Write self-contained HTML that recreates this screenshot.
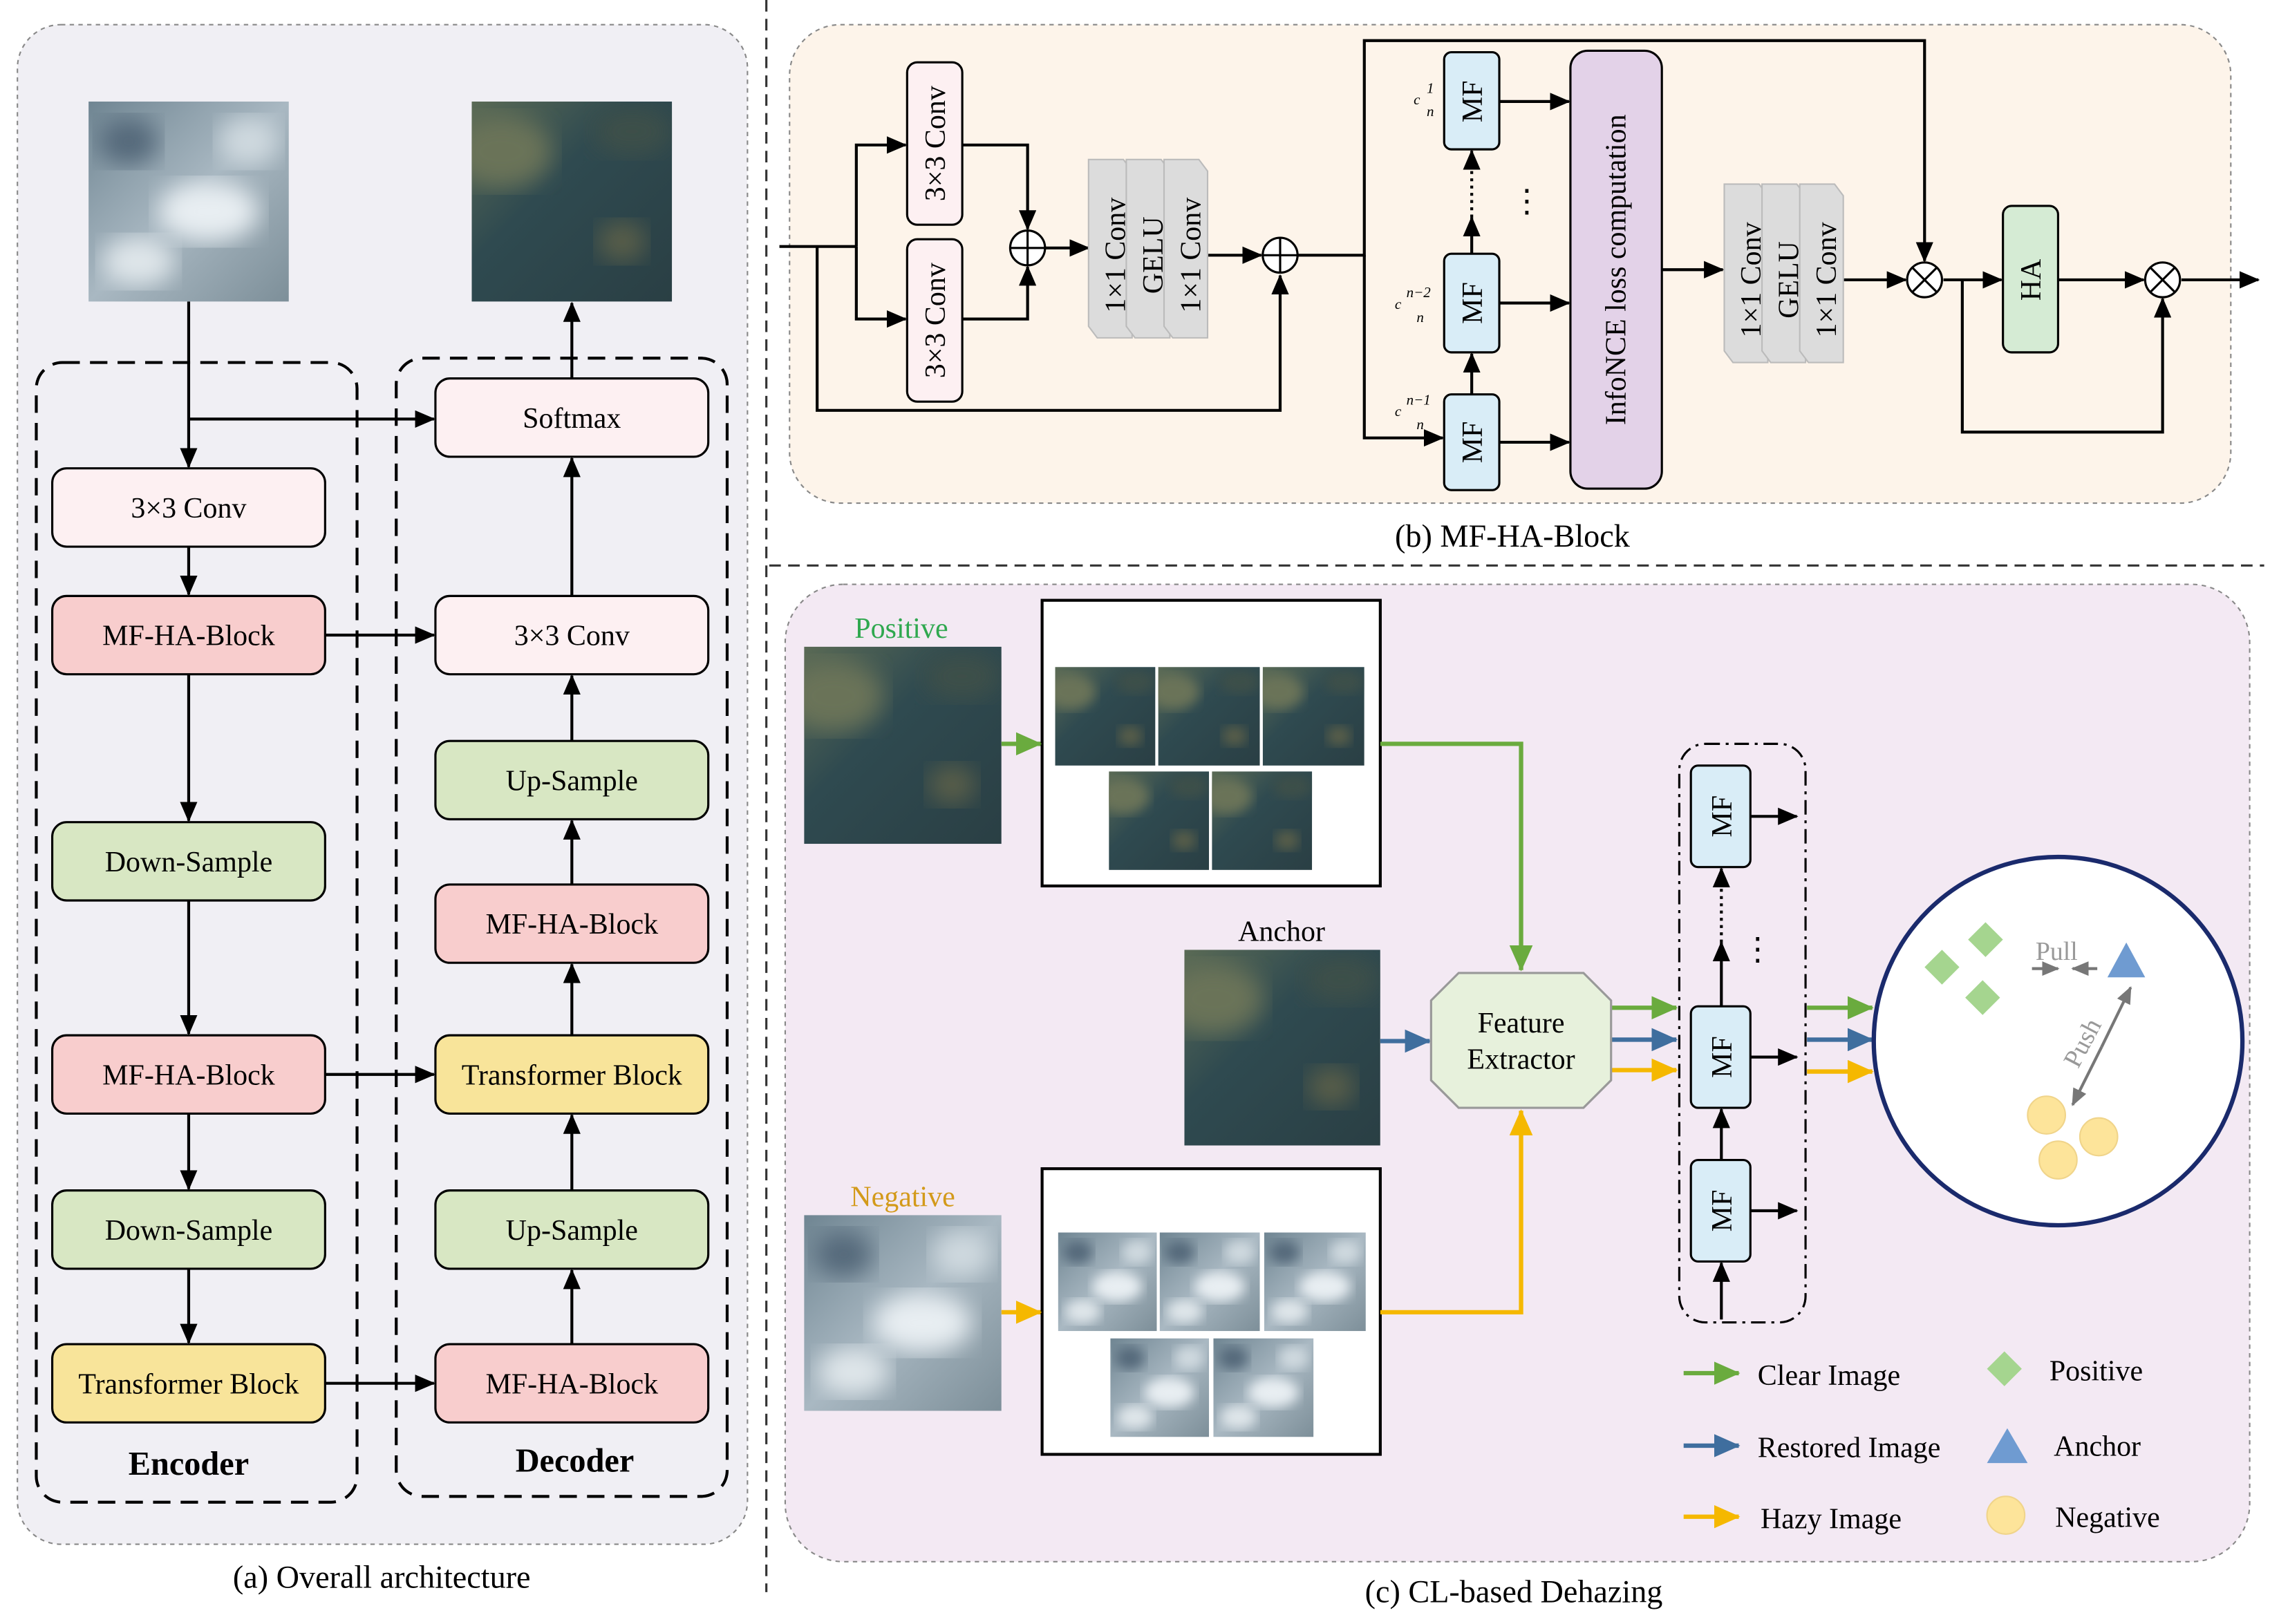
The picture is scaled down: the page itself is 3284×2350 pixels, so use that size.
<!DOCTYPE html>
<html><head><meta charset="utf-8"><style>html,body{margin:0;padding:0;background:#fff}svg{display:block}</style></head><body>
<svg width="3284" height="2350" viewBox="0 0 1564 1120" preserveAspectRatio="none" xmlns="http://www.w3.org/2000/svg" font-family="Liberation Serif, serif">
<defs>
<marker id="ah" markerUnits="userSpaceOnUse" markerWidth="14" markerHeight="12" refX="13" refY="6" orient="auto"><path d="M0,0 L14,6 L0,12 z" fill="#000"/></marker>
<marker id="ag" markerUnits="userSpaceOnUse" markerWidth="18" markerHeight="16" refX="17" refY="8" orient="auto"><path d="M0,0 L18,8 L0,16 z" fill="#6aab3e"/></marker>
<marker id="ab" markerUnits="userSpaceOnUse" markerWidth="18" markerHeight="16" refX="17" refY="8" orient="auto"><path d="M0,0 L18,8 L0,16 z" fill="#3f6e9e"/></marker>
<marker id="ao" markerUnits="userSpaceOnUse" markerWidth="18" markerHeight="16" refX="17" refY="8" orient="auto"><path d="M0,0 L18,8 L0,16 z" fill="#f5b800"/></marker>
<marker id="agr" markerUnits="userSpaceOnUse" markerWidth="12" markerHeight="10" refX="11" refY="5" orient="auto"><path d="M0,0 L12,5 L0,10 z" fill="#777"/></marker>
<linearGradient id="clr" x1="0" y1="0" x2="1" y2="1"><stop offset="0" stop-color="#5a6a55"/><stop offset="0.4" stop-color="#2f4a50"/><stop offset="1" stop-color="#2a3f44"/></linearGradient>
<linearGradient id="hz" x1="0" y1="0" x2="1" y2="1"><stop offset="0" stop-color="#6f8592"/><stop offset="0.5" stop-color="#a9b8c2"/><stop offset="1" stop-color="#7d8f99"/></linearGradient>
<filter id="bl"><feGaussianBlur stdDeviation="6"/></filter>
<symbol id="clear" viewBox="0 0 100 100" preserveAspectRatio="none"><rect width="100" height="100" fill="url(#clr)"/><ellipse cx="15" cy="25" rx="25" ry="18" fill="#6b7358" filter="url(#bl)"/><ellipse cx="75" cy="70" rx="12" ry="10" fill="#5a5f48" filter="url(#bl)"/><ellipse cx="80" cy="15" rx="20" ry="12" fill="#3d5048" filter="url(#bl)"/></symbol>
<symbol id="hazy" viewBox="0 0 100 100" preserveAspectRatio="none"><rect width="100" height="100" fill="url(#hz)"/><ellipse cx="60" cy="55" rx="25" ry="15" fill="#e8eef2" filter="url(#bl)"/><ellipse cx="25" cy="80" rx="18" ry="12" fill="#dfe6ea" filter="url(#bl)"/><ellipse cx="80" cy="20" rx="15" ry="12" fill="#cfd9df" filter="url(#bl)"/><ellipse cx="20" cy="20" rx="15" ry="12" fill="#55697a" filter="url(#bl)"/></symbol>
</defs>
<rect width="1564" height="1120" fill="#fff"/>

<!-- Panel a -->
<rect x="12" y="17" width="503" height="1048" rx="30" fill="#f0eff4" stroke="#888" stroke-dasharray="3,3"/>
<use href="#hazy" x="61" y="70" width="138" height="138"/>
<use href="#clear" x="325" y="70" width="138" height="138"/>
<rect x="25" y="250" width="221" height="786" rx="18" fill="none" stroke="#000" stroke-width="2" stroke-dasharray="12,7"/>
<rect x="273" y="247" width="228" height="785" rx="18" fill="none" stroke="#000" stroke-width="2" stroke-dasharray="12,7"/>
<g stroke="#000" stroke-width="1.5" font-size="20" text-anchor="middle">
<rect x="36" y="323" width="188" height="54" rx="10" fill="#fdf0f2"/>
<rect x="36" y="411" width="188" height="54" rx="10" fill="#f8cdcd"/>
<rect x="36" y="567" width="188" height="54" rx="10" fill="#d8e7c3"/>
<rect x="36" y="714" width="188" height="54" rx="10" fill="#f8cdcd"/>
<rect x="36" y="821" width="188" height="54" rx="10" fill="#d8e7c3"/>
<rect x="36" y="927" width="188" height="54" rx="10" fill="#f8e49a"/>
<rect x="300" y="261" width="188" height="54" rx="10" fill="#fdf0f2"/>
<rect x="300" y="411" width="188" height="54" rx="10" fill="#fdf0f2"/>
<rect x="300" y="511" width="188" height="54" rx="10" fill="#d8e7c3"/>
<rect x="300" y="610" width="188" height="54" rx="10" fill="#f8cdcd"/>
<rect x="300" y="714" width="188" height="54" rx="10" fill="#f8e49a"/>
<rect x="300" y="821" width="188" height="54" rx="10" fill="#d8e7c3"/>
<rect x="300" y="927" width="188" height="54" rx="10" fill="#f8cdcd"/>
</g>
<g font-size="20" text-anchor="middle" fill="#000">
<text x="130" y="357">3×3 Conv</text><text x="130" y="445">MF-HA-Block</text><text x="130" y="601">Down-Sample</text>
<text x="130" y="748">MF-HA-Block</text><text x="130" y="855">Down-Sample</text><text x="130" y="961">Transformer Block</text>
<text x="394" y="295">Softmax</text><text x="394" y="445">3×3 Conv</text><text x="394" y="545">Up-Sample</text>
<text x="394" y="644">MF-HA-Block</text><text x="394" y="748">Transformer Block</text><text x="394" y="855">Up-Sample</text><text x="394" y="961">MF-HA-Block</text>
<text x="130" y="1017" font-weight="bold" font-size="23">Encoder</text><text x="396" y="1015" font-weight="bold" font-size="23">Decoder</text>
<text x="263" y="1095" font-size="22">(a) Overall architecture</text>
</g>
<g stroke="#000" stroke-width="2" fill="none" marker-end="url(#ah)">
<path d="M130,208 V322"/><path d="M130,289 H299"/><path d="M130,377 V410"/><path d="M130,465 V566"/><path d="M130,621 V713"/><path d="M130,768 V820"/><path d="M130,875 V926"/>
<path d="M224,438 H299"/><path d="M224,741 H299"/><path d="M224,954 H299"/>
<path d="M394,927 V876"/><path d="M394,821 V769"/><path d="M394,714 V665"/><path d="M394,610 V566"/><path d="M394,511 V466"/><path d="M394,411 V316"/><path d="M394,261 V209"/>
</g>

<!-- dividers -->
<line x1="528" y1="0" x2="528" y2="1098" stroke="#333" stroke-width="1.5" stroke-dasharray="8,5"/>
<line x1="530" y1="390" x2="1560" y2="390" stroke="#333" stroke-width="1.5" stroke-dasharray="8,5"/>

<!-- Panel b -->
<rect x="544" y="17" width="993" height="330" rx="35" fill="#fdf4ea" stroke="#888" stroke-dasharray="3,3"/>
<g stroke="#000" stroke-width="2" fill="none">
<path d="M537,170 H590"/><path d="M563,170 V283 H882 V190" marker-end="url(#ah)"/>
<path d="M590,170 V100 H624" marker-end="url(#ah)"/><path d="M590,170 V220 H624" marker-end="url(#ah)"/>
<path d="M663,100 H708 V158" marker-end="url(#ah)"/><path d="M663,220 H708 V184" marker-end="url(#ah)"/>
<path d="M720,171 H750" marker-end="url(#ah)"/><path d="M830,176 H869" marker-end="url(#ah)"/>
<path d="M894,176 H940 V28 H1326 V180" marker-end="url(#ah)"/>
<path d="M940,176 V302 H994" marker-end="url(#ah)"/>
<path d="M1033,70 H1081" marker-end="url(#ah)"/><path d="M1033,209 H1081" marker-end="url(#ah)"/><path d="M1033,305 H1081" marker-end="url(#ah)"/>
<path d="M1014,272 V244" marker-end="url(#ah)"/><path d="M1014,175 V150" marker-end="url(#ah)"/><path d="M1014,150 V104" stroke-dasharray="2,3" marker-end="url(#ah)"/>
<path d="M1145,186 H1187" marker-end="url(#ah)"/><path d="M1268,193 H1313" marker-end="url(#ah)"/>
<path d="M1339,193 H1379" marker-end="url(#ah)"/><path d="M1418,193 H1477" marker-end="url(#ah)"/>
<path d="M1352,193 V298 H1490 V206" marker-end="url(#ah)"/><path d="M1503,193 H1556" marker-end="url(#ah)"/>
</g>
<g stroke="#000" stroke-width="1.5">
<circle cx="708" cy="171" r="12" fill="#fff"/><path d="M696,171 H720 M708,159 V183"/>
<circle cx="882" cy="176" r="12" fill="#fff"/><path d="M870,176 H894 M882,164 V188"/>
<circle cx="1326" cy="193" r="12" fill="#fff"/><path d="M1318,185 L1334,201 M1334,185 L1318,201"/>
<circle cx="1490" cy="193" r="12" fill="#fff"/><path d="M1482,185 L1498,201 M1498,185 L1482,201"/>
<rect x="625" y="43" width="38" height="112" rx="7" fill="#fdf0f2"/>
<rect x="625" y="165" width="38" height="112" rx="7" fill="#fdf0f2"/>
<rect x="995" y="36" width="38" height="67" rx="5" fill="#d9edf7"/>
<rect x="995" y="175" width="38" height="68" rx="5" fill="#d9edf7"/>
<rect x="995" y="272" width="38" height="66" rx="5" fill="#d9edf7"/>
<rect x="1082" y="35" width="63" height="302" rx="12" fill="#e3d2e8"/>
<rect x="1380" y="142" width="38" height="101" rx="6" fill="#d5ebd4"/>
</g>
<!-- gray stacks -->
<g fill="#dcdcdc" stroke="#bbb">
<path d="M750,110 h24 l6,8 v115 h-24 l-6,-8z"/><path d="M776,110 h24 l6,8 v115 h-24 l-6,-8z"/><path d="M802,110 h24 l6,8 v115 h-24 l-6,-8z"/>
<path d="M1188,127 h24 l6,8 v115 h-24 l-6,-8z"/><path d="M1214,127 h24 l6,8 v115 h-24 l-6,-8z"/><path d="M1240,127 h24 l6,8 v115 h-24 l-6,-8z"/>
</g>
<g font-size="20" fill="#000" text-anchor="middle">
<text transform="translate(651,99) rotate(-90)">3×3 Conv</text>
<text transform="translate(651,221) rotate(-90)">3×3 Conv</text>
<text transform="translate(775,176) rotate(-90)">1×1 Conv</text>
<text transform="translate(801,176) rotate(-90)">GELU</text>
<text transform="translate(827,176) rotate(-90)">1×1 Conv</text>
<text transform="translate(1213,193) rotate(-90)">1×1 Conv</text>
<text transform="translate(1239,193) rotate(-90)">GELU</text>
<text transform="translate(1265,193) rotate(-90)">1×1 Conv</text>
<text transform="translate(1021,70) rotate(-90)">MF</text>
<text transform="translate(1021,209) rotate(-90)">MF</text>
<text transform="translate(1021,305) rotate(-90)">MF</text>
<text transform="translate(1120,186) rotate(-90)">InfoNCE loss computation</text>
<text transform="translate(1406,193) rotate(-90)">HA</text>
<text x="1052" y="146" font-size="22">⋮</text>
<text x="1042" y="377" font-size="22">(b) MF-HA-Block</text>
</g>
<g font-size="10" font-style="italic" fill="#000">
<text x="974" y="72">c</text><text x="983" y="64">1</text><text x="983" y="80">n</text>
<text x="961" y="213">c</text><text x="969" y="205">n−2</text><text x="976" y="222">n</text>
<text x="961" y="287">c</text><text x="969" y="279">n−1</text><text x="976" y="296">n</text>
</g>

<!-- Panel c -->
<rect x="541" y="403" width="1009" height="674" rx="40" fill="#f3e9f3" stroke="#888" stroke-dasharray="3,3"/>
<g font-size="20" text-anchor="middle">
<text x="621" y="440" fill="#2fa84f">Positive</text>
<text x="883" y="649" fill="#000">Anchor</text>
<text x="622" y="832" fill="#d39a1a">Negative</text>
<text x="834" y="443" fill="#4472c4">Image Augmentation</text>
<text x="834" y="836" fill="#4472c4">Image Augmentation</text>
<text x="1043" y="1105" fill="#000" font-size="22">(c) CL-based Dehazing</text>
</g>
<use href="#clear" x="554" y="446" width="136" height="136"/>
<use href="#clear" x="816" y="655" width="135" height="135"/>
<use href="#hazy" x="554" y="838" width="136" height="135"/>
<rect x="718" y="414" width="233" height="197" fill="#fff" stroke="#000" stroke-width="2"/>
<rect x="718" y="806" width="233" height="197" fill="#fff" stroke="#000" stroke-width="2"/>
<use href="#clear" x="727" y="460" width="69" height="68"/><use href="#clear" x="798" y="460" width="70" height="68"/><use href="#clear" x="870" y="460" width="70" height="68"/>
<use href="#clear" x="764" y="532" width="69" height="68"/><use href="#clear" x="835" y="532" width="69" height="68"/>
<use href="#hazy" x="729" y="850" width="68" height="68"/><use href="#hazy" x="799" y="850" width="69" height="68"/><use href="#hazy" x="871" y="850" width="70" height="68"/>
<use href="#hazy" x="765" y="923" width="68" height="68"/><use href="#hazy" x="836" y="923" width="69" height="68"/>
<g fill="none" stroke-width="3">
<path d="M690,513 H717" stroke="#6aab3e" marker-end="url(#ag)"/>
<path d="M951,718 H985" stroke="#3f6e9e" marker-end="url(#ab)"/>
<path d="M690,905 H717" stroke="#f5b800" marker-end="url(#ao)"/>
<path d="M951,513 H1048 V669" stroke="#6aab3e" marker-end="url(#ag)"/>
<path d="M951,905 H1048 V766" stroke="#f5b800" marker-end="url(#ao)"/>
<path d="M1110,695 H1155" stroke="#6aab3e" marker-end="url(#ag)"/>
<path d="M1110,717 H1155" stroke="#3f6e9e" marker-end="url(#ab)"/>
<path d="M1110,738 H1155" stroke="#f5b800" marker-end="url(#ao)"/>
<path d="M1245,695 H1290" stroke="#6aab3e" marker-end="url(#ag)"/>
<path d="M1245,717 H1290" stroke="#3f6e9e" marker-end="url(#ab)"/>
<path d="M1245,739 H1290" stroke="#f5b800" marker-end="url(#ao)"/>
<path d="M1160,947 H1198" stroke="#6aab3e" marker-end="url(#ag)"/>
<path d="M1160,997 H1198" stroke="#3f6e9e" marker-end="url(#ab)"/>
<path d="M1160,1046 H1198" stroke="#f5b800" marker-end="url(#ao)"/>
</g>
<path d="M986,690 L1005,671 H1091 L1110,690 V745 L1091,764 H1005 L986,745 Z" fill="#e7f1dc" stroke="#999" stroke-width="1.5"/>
<text x="1048" y="712" font-size="20" text-anchor="middle">Feature</text><text x="1048" y="737" font-size="20" text-anchor="middle">Extractor</text>
<rect x="1157" y="513" width="87" height="399" rx="18" fill="none" stroke="#000" stroke-width="1.5" stroke-dasharray="10,4,2,4"/>
<g stroke="#000" stroke-width="1.5"><rect x="1165" y="528" width="41" height="70" rx="5" fill="#d9edf7"/><rect x="1165" y="694" width="41" height="70" rx="5" fill="#d9edf7"/><rect x="1165" y="800" width="41" height="70" rx="5" fill="#d9edf7"/></g>
<g font-size="20" text-anchor="middle"><text transform="translate(1193,563) rotate(-90)">MF</text><text transform="translate(1193,729) rotate(-90)">MF</text><text transform="translate(1193,835) rotate(-90)">MF</text><text x="1211" y="662" font-size="22">⋮</text></g>
<g stroke="#000" stroke-width="2" fill="none" marker-end="url(#ah)">
<path d="M1206,563 H1238"/><path d="M1206,729 H1238"/><path d="M1206,835 H1238"/>
<path d="M1186,910 V871"/><path d="M1186,800 V765"/><path d="M1186,694 V650"/><path d="M1186,650 V599" stroke-dasharray="2,3"/>
</g>
<circle cx="1418" cy="718" r="127" fill="#fff" stroke="#1a2a6c" stroke-width="3"/>
<g fill="#a5d58f"><path d="M1338,655 l12,12 l-12,12 l-12,-12z"/><path d="M1368,636 l12,12 l-12,12 l-12,-12z"/><path d="M1366,676 l12,12 l-12,12 l-12,-12z"/><path d="M1381,932 l12,12 l-12,12 l-12,-12z"/></g>
<path d="M1465,650 L1478,674 H1452 Z" fill="#6f9bd1"/><path d="M1383,985 L1397,1009 H1369 Z" fill="#6f9bd1"/>
<g fill="#fde49a" stroke="#f0d48a"><circle cx="1410" cy="769" r="13"/><circle cx="1446" cy="784" r="13"/><circle cx="1418" cy="800" r="13"/><circle cx="1382" cy="1045" r="13"/></g>
<g stroke="#777" stroke-width="2" fill="none"><path d="M1400,668 H1418" marker-end="url(#agr)"/><path d="M1445,668 H1428" marker-end="url(#agr)"/><path d="M1448,722 L1468,681" marker-end="url(#agr)"/><path d="M1448,722 L1428,762" marker-end="url(#agr)"/></g>
<text x="1417" y="662" font-size="18" fill="#999" text-anchor="middle">Pull</text>
<text transform="translate(1440,722) rotate(-62)" font-size="18" fill="#999" text-anchor="middle">Push</text>
<g font-size="20" fill="#000">
<text x="1211" y="955">Clear Image</text><text x="1211" y="1005">Restored Image</text><text x="1213" y="1054">Hazy Image</text>
<text x="1412" y="952">Positive</text><text x="1415" y="1004">Anchor</text><text x="1416" y="1053">Negative</text>
</g>
</svg>
</body></html>
